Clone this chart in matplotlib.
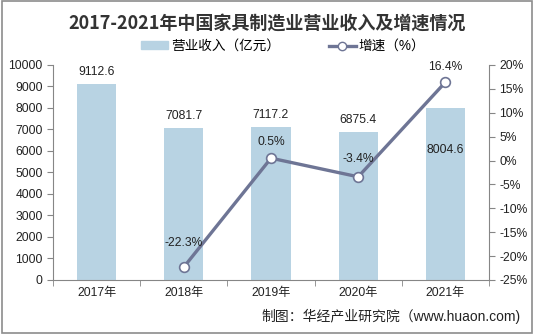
import matplotlib
matplotlib.use('Agg')
import matplotlib.pyplot as plt
import matplotlib.patches as mpatches
from matplotlib.lines import Line2D

FONTS = ['Liberation Sans', 'Noto Sans CJK SC', 'DejaVu Sans']
plt.rcParams['font.family'] = FONTS
plt.rcParams['axes.unicode_minus'] = False

BAR = '#B8D3E3'
LINE = '#6E7595'
AXIS = '#868686'
TXT = '#222222'

years = ['2017年', '2018年', '2019年', '2020年', '2021年']
revenue = [9112.6, 7081.7, 7117.2, 6875.4, 8004.6]
growth = [None, -22.3, 0.5, -3.4, 16.4]
rev_labels = ['9112.6', '7081.7', '7117.2', '6875.4', '8004.6']
growth_labels = ['', '-22.3%', '0.5%', '-3.4%', '16.4%']

fig = plt.figure(figsize=(5.34, 3.34), dpi=100)
ax = fig.add_axes([0.0993, 0.1617, 0.8164, 0.6437])
x = list(range(len(years)))

ax.bar(x, revenue, width=0.45, color=BAR, zorder=2)
ax.set_xlim(-0.5, len(years) - 0.5)
ax.set_ylim(0, 10000)
ax.set_yticks(range(0, 10001, 1000))
ax.set_xticks(x)
ax.set_xticklabels(years)
ax.set_xticks([i + 0.5 for i in range(-1, len(years))], minor=True)
ax.tick_params(axis='x', which='major', length=0, labelsize=8.7, colors=TXT, pad=5)
ax.tick_params(axis='x', which='minor', length=4, color=AXIS, direction='out')
ax.tick_params(axis='y', length=4, color=AXIS, labelsize=8.7, labelcolor=TXT)
for s in ['top', 'right']:
    ax.spines[s].set_visible(False)
for s in ['left', 'bottom']:
    ax.spines[s].set_color(AXIS)
    ax.spines[s].set_linewidth(0.8)

# bar labels
for i, (v, lab) in enumerate(zip(revenue, rev_labels)):
    if i == 4:
        ax.text(i, 6050, lab, ha='center', va='center', fontsize=8.7, color=TXT, zorder=4)
    else:
        ax.text(i, v + 560, lab, ha='center', va='center', fontsize=8.7, color=TXT, zorder=4)

ax2 = ax.twinx()
ax2.set_ylim(-25, 20)
ax2.set_yticks(range(-25, 21, 5))
ax2.set_yticklabels([f'{t}%' for t in range(-25, 21, 5)])
ax2.tick_params(axis='y', length=4, color=AXIS, labelsize=8.7, labelcolor=TXT)
for s in ['top', 'left', 'bottom']:
    ax2.spines[s].set_visible(False)
ax2.spines['right'].set_color(AXIS)
ax2.spines['right'].set_linewidth(0.8)

gx = [i for i, g in zip(x, growth) if g is not None]
gy = [g for g in growth if g is not None]
ax2.plot(gx, gy, color=LINE, lw=2.4, marker='o', markersize=7,
         markerfacecolor='white', markeredgecolor=LINE, markeredgewidth=1.2, zorder=5)
offsets = [0, 5.0, 3.4, 3.8, 3.2]
for i, g in enumerate(growth):
    if g is None:
        continue
    ax2.text(i, g + offsets[i], growth_labels[i], ha='center', va='center',
             fontsize=8.7, color=TXT, zorder=6)

# title and legend
fig.text(0.5, 0.93, '2017-2021年中国家具制造业营业收入及增速情况', ha='center', va='center',
         fontsize=13, fontweight='bold', color='#333333', family=['Noto Sans CJK SC'])
handles = [mpatches.Patch(color=BAR),
           Line2D([0], [0], color=LINE, lw=2.4, marker='o', markersize=6,
                  markerfacecolor='white', markeredgecolor=LINE)]
fig.legend(handles, ['营业收入（亿元）', '增速（%）'], loc='center', bbox_to_anchor=(0.53, 0.862),
           ncol=2, frameon=False, fontsize=9.8, handlelength=2.0, handleheight=0.5,
           columnspacing=3.6, handletextpad=0.2)

fig.text(0.975, 0.052, '制图：华经产业研究院（www.huaon.com)', ha='right', va='center',
         fontsize=10, color=TXT)

# outer frame
fig.patches.append(mpatches.Rectangle((0.003, 0.003), 0.994, 0.994, transform=fig.transFigure,
                                      fill=False, edgecolor='#8C8C8C', lw=1.2))

fig.savefig('out.png', dpi=100, facecolor='white')
